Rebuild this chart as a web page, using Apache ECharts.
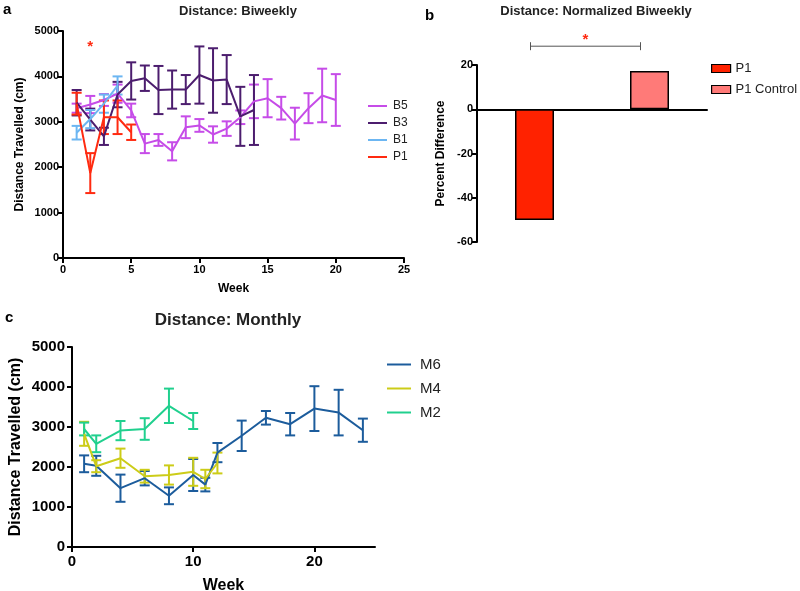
<!DOCTYPE html>
<html>
<head>
<meta charset="utf-8">
<script src="https://cdn.jsdelivr.net/npm/echarts@6/dist/echarts.min.js"></script>
<style>html,body{margin:0;padding:0;background:#fff}#c{width:800px;height:591px}</style>
</head>
<body>
<div id="c"></div>
<script>
// ---------- Panel a: biweekly ----------
const weeksB5 = [1,2,3,4,5,6,7,8,9,10,11,12,13,14,15,16,17,18,19,20];
const meanB5 = [3300,3380,3480,3620,3250,2520,2600,2350,2880,2920,2720,2850,3100,3450,3520,3300,2960,3300,3580,3480];
const errB5  = [100,190,130,200,150,210,130,200,240,140,180,160,150,370,420,250,350,330,590,570];
const weeksB3 = [1,2,3,4,5,6,7,8,9,10,11,12,13,14];
const meanB3 = [3420,3050,2680,3600,3900,3960,3700,3710,3710,4030,3910,3930,3120,3260];
const errB3  = [280,240,190,280,410,280,530,420,320,630,710,540,650,770];
const weeksB1 = [1,2,3,4];
const meanB1 = [2760,3060,3400,3800];
const errB1  = [150,200,200,200];
const weeksP1 = [1,2,3,4,5];
const meanP1 = [3400,1870,3100,3100,2770];
const errP1  = [240,440,370,370,170];
const sigA = [2, 4720];
const ticksA_x = [0,5,10,15,20,25];
const ticksA_y = [0,1000,2000,3000,4000,5000];

// ---------- Panel b: normalized ----------
const catsB = ['P1','P1 Control'];
const valsB = [-50, 17.3];
const sigB = 28.5;

// ---------- Panel c: monthly ----------
const weeksM6 = [1,2,4,6,8,10,11,12,14,16,18,20,22,24];
const meanM6 = [2080,2030,1470,1720,1280,1800,1560,2360,2780,3230,3070,3460,3360,2920];
const errM6  = [210,250,340,180,210,400,170,240,380,170,280,560,570,290];
const weeksM4 = [1,2,4,6,8,10,11,12];
const meanM4 = [2830,2020,2220,1770,1800,1880,1700,2100];
const errM4  = [300,150,240,160,240,350,230,260];
const weeksM2 = [1,2,4,6,8,10];
const meanM2 = [2950,2580,2910,2950,3530,3150];
const errM2  = [160,210,240,270,430,200];

const COL = {B5:'#c64ce8', B3:'#4c1d6e', B1:'#6cb6f2', P1:'#ff2a10', M6:'#1c5c9c', M4:'#cccc18', M2:'#20d08e', bP1:'#ff2200', bCtl:'#ff7a78'};
const FONT = 'Liberation Sans, Arial, sans-serif';

function pts(w, m){ return w.map((x,i)=>[x,m[i]]); }
function errData(w, m, e){ return w.map((x,i)=>[x, m[i]-e[i], m[i]+e[i]]); }

function lineSeries(name, w, m, color, gi){
  return {type:'line', name, xAxisIndex:gi, yAxisIndex:gi, data:pts(w,m), symbol:'none',
    lineStyle:{color, width:2}, itemStyle:{color}, z:3, animation:false};
}
function errSeries(name, w, m, e, color, gi, half){
  return {type:'custom', name, xAxisIndex:gi, yAxisIndex:gi, data:errData(w,m,e), z:3, animation:false,
    encode:{x:0, y:[1,2]},
    renderItem:function(params, api){
      const x = api.value(0), lo = api.value(1), hi = api.value(2);
      const a = api.coord([x, hi]), b = api.coord([x, lo]);
      const st = {stroke:color, lineWidth:2};
      return {type:'group', children:[
        {type:'line', shape:{x1:a[0],y1:a[1],x2:b[0],y2:b[1]}, style:st},
        {type:'line', shape:{x1:a[0]-half,y1:a[1],x2:a[0]+half,y2:a[1]}, style:st},
        {type:'line', shape:{x1:b[0]-half,y1:b[1],x2:b[0]+half,y2:b[1]}, style:st}
      ]};
    }};
}

function valAxis(gi, min, max, interval, fs, nameTxt, nameGap, nameFs, extraLabel){
  return {type:'value', gridIndex:gi, min, max, interval,
    axisLine:{show:true, onZero:false, lineStyle:{color:'#000', width:2}},
    axisTick:{show:true, length:5, lineStyle:{color:'#000', width:2}},
    axisLabel:Object.assign({color:'#000', fontWeight:'bold', fontSize:fs, fontFamily:FONT, margin:4,
      formatter:function(v){ return String(v); }}, extraLabel||{}),
    splitLine:{show:false},
    name:nameTxt, nameLocation:'middle', nameGap,
    nameTextStyle:{color:'#000', fontWeight:'bold', fontSize:nameFs, fontFamily:FONT}};
}

const option = {
  animation:false,
  backgroundColor:'#fff',
  textStyle:{fontFamily:FONT},
  grid:[
    {left:63, top:31, width:341, height:227, outerBoundsMode:'none', containLabel:false},
    {left:477, top:65, width:230, height:177, outerBoundsMode:'none', containLabel:false},
    {left:72, top:347, width:303, height:200, outerBoundsMode:'none', containLabel:false}
  ],
  title:[
    {text:'a', left:-2, top:-3, textStyle:{fontSize:15, fontWeight:'bold', color:'#000', fontFamily:FONT}},
    {text:'Distance: Biweekly', left:233, top:0, textAlign:'center', textStyle:{fontSize:13, fontWeight:'bold', color:'#222', fontFamily:FONT}},
    {text:'b', left:420, top:3, textStyle:{fontSize:15, fontWeight:'bold', color:'#000', fontFamily:FONT}},
    {text:'Distance: Normalized Biweekly', left:591, top:0, textAlign:'center', textStyle:{fontSize:13, fontWeight:'bold', color:'#222', fontFamily:FONT}},
    {text:'c', left:0, top:305, textStyle:{fontSize:15, fontWeight:'bold', color:'#000', fontFamily:FONT}},
    {text:'Distance: Monthly', left:223, top:307, textAlign:'center', textStyle:{fontSize:17, fontWeight:'bold', color:'#222', fontFamily:FONT}}
  ],
  legend:[
    {orient:'vertical', left:363, top:95, itemWidth:19, itemHeight:2, itemGap:5, icon:'rect',
      textStyle:{fontSize:12, color:'#222', fontFamily:FONT, padding:[0,0,0,1]},
      data:[{name:'B5', itemStyle:{color:COL.B5}}, {name:'B3', itemStyle:{color:COL.B3}},
            {name:'B1', itemStyle:{color:COL.B1}}, {name:'P1', itemStyle:{color:COL.P1}}]},
    {orient:'vertical', left:706, top:57, itemWidth:19, itemHeight:8, itemGap:8, icon:'rect',
      textStyle:{fontSize:13, color:'#222', fontFamily:FONT},
      data:[{name:'P1', itemStyle:{color:COL.bP1, borderColor:'#000', borderWidth:1.2}},
            {name:'P1 Control', itemStyle:{color:COL.bCtl, borderColor:'#000', borderWidth:1.2}}]},
    {orient:'vertical', left:382, top:352, itemWidth:24, itemHeight:2, itemGap:9, icon:'rect',
      textStyle:{fontSize:15, color:'#222', fontFamily:FONT, padding:[0,0,0,4]},
      data:[{name:'M6', itemStyle:{color:COL.M6}}, {name:'M4', itemStyle:{color:COL.M4}}, {name:'M2', itemStyle:{color:COL.M2}}]}
  ],
  xAxis:[
    valAxis(0, ticksA_x[0], ticksA_x[ticksA_x.length-1], 5, 11, 'Week', 25, 12, {margin:6}),
    {type:'category', gridIndex:1, data:catsB,
      axisLine:{show:true, onZero:true, lineStyle:{color:'#000', width:2}},
      axisTick:{show:false}, axisLabel:{show:false}},
    valAxis(2, 0, 25, 10, 15, 'Week', 31, 16, {showMaxLabel:false, margin:7})
  ],
  yAxis:[
    valAxis(0, ticksA_y[0], ticksA_y[ticksA_y.length-1], 1000, 11, 'Distance Travelled (cm)', 37, 12),
    valAxis(1, -60, 20, 20, 11, 'Percent Difference', 30, 12),
    valAxis(2, 0, 5000, 1000, 15, 'Distance Travelled (cm)', 48, 16, {margin:7})
  ],
  series:[
    lineSeries('B5', weeksB5, meanB5, COL.B5, 0),
    errSeries('B5', weeksB5, meanB5, errB5, COL.B5, 0, 5),
    lineSeries('B3', weeksB3, meanB3, COL.B3, 0),
    errSeries('B3', weeksB3, meanB3, errB3, COL.B3, 0, 5),
    lineSeries('B1', weeksB1, meanB1, COL.B1, 0),
    errSeries('B1', weeksB1, meanB1, errB1, COL.B1, 0, 5),
    lineSeries('P1', weeksP1, meanP1, COL.P1, 0),
    errSeries('P1', weeksP1, meanP1, errP1, COL.P1, 0, 5),
    {type:'custom', xAxisIndex:0, yAxisIndex:0, data:[sigA], silent:true,
      renderItem:function(params, api){
        const p = api.coord([api.value(0), api.value(1)]);
        return {type:'text', style:{text:'*', x:p[0], y:p[1]+3, align:'center', verticalAlign:'middle', fill:COL.P1, fontSize:15, fontWeight:'bold', fontFamily:FONT}};
      }},
    {type:'bar', name:'P1', xAxisIndex:1, yAxisIndex:1, data:[valsB[0], '-'], barWidth:39, barGap:'-100%',
      itemStyle:{color:COL.bP1, borderColor:'#000', borderWidth:1.5}},
    {type:'bar', name:'P1 Control', xAxisIndex:1, yAxisIndex:1, data:['-', valsB[1]], barWidth:39, barGap:'-100%',
      itemStyle:{color:COL.bCtl, borderColor:'#000', borderWidth:1.5}},
    {type:'custom', xAxisIndex:1, yAxisIndex:1, data:[[0, sigB]], silent:true,
      renderItem:function(params, api){
        const a = api.coord([0, api.value(1)]);
        const b = api.coord([1, api.value(1)]);
        const x1 = a[0]-4, x2 = b[0]-9, y = a[1];
        const st = {stroke:'#555', lineWidth:1};
        return {type:'group', children:[
          {type:'line', shape:{x1, y1:y, x2, y2:y}, style:st},
          {type:'line', shape:{x1, y1:y-4, x2:x1, y2:y+4}, style:st},
          {type:'line', shape:{x1:x2, y1:y-4, x2, y2:y+4}, style:st},
          {type:'text', style:{text:'*', x:(x1+x2)/2, y:y-6, align:'center', verticalAlign:'middle', fill:COL.P1, fontSize:15, fontWeight:'bold', fontFamily:FONT}}
        ]};
      }},
    lineSeries('M6', weeksM6, meanM6, COL.M6, 2),
    errSeries('M6', weeksM6, meanM6, errM6, COL.M6, 2, 5),
    lineSeries('M4', weeksM4, meanM4, COL.M4, 2),
    errSeries('M4', weeksM4, meanM4, errM4, COL.M4, 2, 5),
    lineSeries('M2', weeksM2, meanM2, COL.M2, 2),
    errSeries('M2', weeksM2, meanM2, errM2, COL.M2, 2, 5)
  ]
};
const chart = echarts.init(document.getElementById('c'), null, {renderer:'canvas'});
chart.setOption(option);
</script>
</body>
</html>
